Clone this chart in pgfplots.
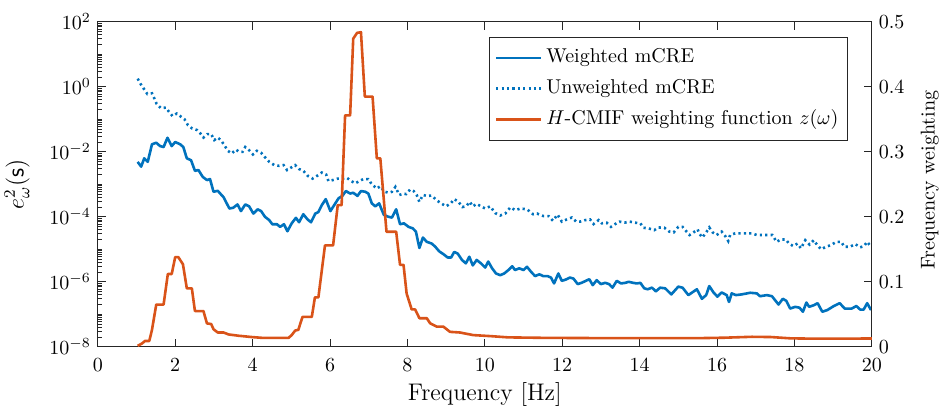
\documentclass[border=0pt]{standalone}
\usepackage{pgfplots}
\usepackage{pgfplotstable}
\pgfplotsset{compat=1.18}
\definecolor{mblue}{RGB}{0,114,189}
\definecolor{morange}{RGB}{217,83,25}
\definecolor{mgray}{RGB}{38,38,38}

\pgfplotstableread{
x y
1.03 4.9e-3
1.12 3.5e-3
1.20 6.3e-3
1.29 4.9e-3
1.40 1.7e-2
1.51 1.9e-2
1.61 1.5e-2
1.70 1.4e-2
1.80 2.7e-2
1.91 1.5e-2
2.00 2.0e-2
2.13 1.7e-2
2.21 1.4e-2
2.30 6.3e-3
2.41 5.5e-3
2.51 2.6e-3
2.60 2.75e-3
2.71 1.7e-3
2.82 1.35e-3
2.90 1.45e-3
2.99 5.9e-4
3.10 6.3e-4
3.25 4.0e-4
3.40 1.8e-4
3.50 1.9e-4
3.61 2.4e-4
3.70 1.5e-4
3.81 2.4e-4
3.91 2.1e-4
4.02 1.26e-4
4.13 1.7e-4
4.22 1.5e-4
4.32 1.0e-4
4.43 7.9e-5
4.51 5.9e-5
4.63 5.9e-5
4.71 4.9e-5
4.81 5.9e-5
4.90 3.6e-5
5.01 6.3e-5
5.12 9.3e-5
5.20 6.8e-5
5.31 1.2e-4
5.42 8.3e-5
5.51 6.8e-5
5.62 1.26e-4
5.70 1.4e-4
5.79 2.3e-4
5.89 3.5e-4
6.01 1.5e-4
6.11 2.3e-4
6.22 3.7e-4
6.32 4.4e-4
6.41 6.2e-4
6.52 5.2e-4
6.60 5.5e-4
6.71 4.4e-4
6.80 6.2e-4
6.91 5.9e-4
6.99 5.2e-4
7.08 2.6e-4
7.17 2.1e-4
7.27 2.6e-4
7.39 1.15e-4
7.51 1.0e-4
7.60 9.5e-5
7.71 1.7e-4
7.81 5.9e-5
7.91 6.3e-5
8.03 4.9e-5
8.14 4.4e-5
8.22 3.5e-5
8.31 1.1e-5
8.40 2.3e-5
8.50 1.7e-5
8.63 1.5e-5
8.72 1.2e-5
8.82 8.7e-6
8.93 7.1e-6
9.04 5.6e-6
9.13 5.6e-6
9.21 8.3e-6
9.30 7.4e-6
9.41 4.7e-6
9.51 3.7e-6
9.60 5.9e-6
9.69 3.2e-6
9.79 4.7e-6
9.90 3.7e-6
10.01 2.75e-6
10.09 4.2e-6
10.18 2.7e-6
10.29 1.8e-6
10.40 1.6e-6
10.50 1.8e-6
10.61 2.3e-6
10.71 3.0e-6
10.78 2.3e-6
10.89 2.6e-6
11.00 2.3e-6
11.09 2.9e-6
11.20 2.0e-6
11.30 1.5e-6
11.41 1.7e-6
11.51 1.5e-6
11.62 1.5e-6
11.71 1.35e-6
11.79 8.9e-7
11.90 1.8e-6
11.99 1.07e-6
12.09 1.17e-6
12.20 1.35e-6
12.29 1.26e-6
12.40 8.5e-7
12.50 9.3e-7
12.61 1.07e-6
12.70 1.2e-6
12.79 7.9e-7
12.89 1.12e-6
13.00 8.5e-7
13.11 9.3e-7
13.21 8.5e-7
13.30 6.6e-7
13.41 1.07e-6
13.52 8.9e-7
13.63 9.3e-7
13.72 1.0e-6
13.83 9.3e-7
13.93 8.9e-7
14.02 9.3e-7
14.12 6.3e-7
14.21 5.9e-7
14.32 6.6e-7
14.42 5.1e-7
14.53 6.6e-7
14.66 6.3e-7
14.82 4.1e-7
15.00 7.1e-7
15.11 6.6e-7
15.26 3.9e-7
15.48 5.9e-7
15.61 3.0e-7
15.72 3.9e-7
15.80 7.4e-7
15.91 4.7e-7
16.01 3.5e-7
16.12 4.7e-7
16.25 3.9e-7
16.31 2.4e-7
16.38 4.4e-7
16.49 3.9e-7
16.64 4.1e-7
16.86 4.6e-7
17.03 4.4e-7
17.11 3.6e-7
17.29 3.9e-7
17.42 3.6e-7
17.59 2.0e-7
17.70 3.0e-7
17.79 2.6e-7
17.89 1.5e-7
18.02 1.7e-7
18.13 1.6e-7
18.22 1.2e-7
18.31 2.3e-7
18.38 1.7e-7
18.50 1.9e-7
18.60 2.2e-7
18.72 1.2e-7
18.85 1.35e-7
19.02 1.8e-7
19.17 2.2e-7
19.30 1.5e-7
19.48 1.5e-7
19.60 1.8e-7
19.70 1.4e-7
19.79 1.4e-7
19.88 2.2e-7
19.98 1.35e-7
}\weighted

\pgfplotstableread{
x y
1.03 1.78
1.11 1.2
1.20 0.83
1.28 0.6
1.40 0.63
1.46 0.44
1.52 0.3
1.63 0.22
1.76 0.23
1.84 0.17
1.93 0.126
2.04 0.15
2.15 0.12
2.24 0.1
2.33 0.066
2.44 0.052
2.56 0.047
2.64 0.038
2.73 0.0275
2.83 0.035
2.93 0.035
3.01 0.023
3.10 0.0275
3.19 0.022
3.27 0.016
3.36 0.0107
3.46 8.9e-3
3.57 0.0117
3.65 0.01
3.74 0.01
3.81 0.014
3.91 0.0112
4.01 8.3e-3
4.11 0.0107
4.22 9.3e-3
4.32 6.8e-3
4.43 4.9e-3
4.56 3.9e-3
4.69 3.7e-3
4.80 3.9e-3
4.89 2.75e-3
5.00 3.3e-3
5.10 3.9e-3
5.20 2.95e-3
5.31 2.6e-3
5.43 1.8e-3
5.55 1.5e-3
5.66 1.8e-3
5.79 2.3e-3
5.90 2.0e-3
5.96 1.26e-3
6.07 1.35e-3
6.20 1.5e-3
6.32 1.5e-3
6.43 1.6e-3
6.55 1.26e-3
6.65 1.07e-3
6.73 1.2e-3
6.86 1.45e-3
6.99 1.45e-3
7.08 1.0e-3
7.21 7.4e-4
7.30 8.7e-4
7.41 5.9e-4
7.52 5.5e-4
7.60 5.9e-4
7.69 8.3e-4
7.79 4.7e-4
7.90 5.2e-4
7.97 5.0e-4
8.07 6.9e-4
8.16 6.2e-4
8.24 4.7e-4
8.31 2.9e-4
8.40 4.7e-4
8.50 4.4e-4
8.63 4.5e-4
8.76 3.2e-4
8.87 2.6e-4
9.00 2.1e-4
9.12 2.6e-4
9.21 3.5e-4
9.32 2.9e-4
9.42 2.0e-4
9.52 2.1e-4
9.61 2.9e-4
9.69 2.1e-4
9.79 2.5e-4
9.90 2.1e-4
10.01 1.8e-4
10.14 2.1e-4
10.27 1.3e-4
10.40 1.1e-4
10.53 1.26e-4
10.66 1.95e-4
10.79 1.6e-4
10.92 1.8e-4
11.09 1.7e-4
11.25 1.2e-4
11.35 1.26e-4
11.52 1.05e-4
11.65 1.05e-4
11.76 7.6e-5
11.88 1.17e-4
11.99 7.1e-5
12.12 8.3e-5
12.25 9.5e-5
12.36 7.1e-5
12.46 7.1e-5
12.59 7.9e-5
12.72 8.3e-5
12.81 6.0e-5
12.94 7.9e-5
13.02 6.3e-5
13.15 6.6e-5
13.26 4.9e-5
13.37 6.0e-5
13.48 7.1e-5
13.61 6.6e-5
13.74 7.1e-5
13.88 6.6e-5
14.02 6.3e-5
14.10 4.6e-5
14.23 4.4e-5
14.38 3.9e-5
14.49 4.7e-5
14.64 4.6e-5
14.77 3.5e-5
14.88 3.3e-5
15.00 4.9e-5
15.11 4.9e-5
15.18 3.9e-5
15.29 2.75e-5
15.39 3.3e-5
15.50 4.1e-5
15.54 3.1e-5
15.62 2.3e-5
15.72 3.3e-5
15.80 4.7e-5
15.89 3.3e-5
15.99 2.75e-5
16.12 3.5e-5
16.23 2.4e-5
16.29 1.8e-5
16.34 2.75e-5
16.47 3.1e-5
16.60 3.1e-5
16.75 3.1e-5
16.90 3.1e-5
17.03 2.75e-5
17.16 2.75e-5
17.29 2.75e-5
17.43 2.75e-5
17.54 1.7e-5
17.65 2.0e-5
17.78 2.0e-5
17.86 1.5e-5
17.97 1.26e-5
18.08 1.5e-5
18.17 1.07e-5
18.28 1.9e-5
18.39 1.4e-5
18.50 1.9e-5
18.58 1.4e-5
18.69 1.0e-5
18.82 1.2e-5
18.95 1.35e-5
19.08 1.7e-5
19.21 1.7e-5
19.29 1.2e-5
19.44 1.2e-5
19.57 1.45e-5
19.70 1.15e-5
19.80 1.26e-5
19.88 1.7e-5
19.98 1.2e-5
}\unweighted

\pgfplotstableread{
x y
1.03 0.0015
1.14 0.005
1.22 0.009
1.33 0.009
1.40 0.026
1.51 0.065
1.70 0.065
1.81 0.112
1.91 0.112
2.00 0.138
2.08 0.138
2.20 0.127
2.30 0.090
2.43 0.090
2.51 0.055
2.73 0.055
2.82 0.036
2.93 0.035
2.99 0.027
3.10 0.022
3.25 0.022
3.38 0.019
3.64 0.017
3.98 0.015
4.24 0.0138
4.93 0.0138
5.01 0.018
5.10 0.025
5.18 0.026
5.29 0.046
5.53 0.046
5.61 0.076
5.70 0.076
5.87 0.156
6.08 0.156
6.20 0.218
6.30 0.218
6.39 0.356
6.52 0.356
6.60 0.474
6.70 0.483
6.80 0.484
6.90 0.385
7.10 0.385
7.21 0.290
7.30 0.290
7.46 0.177
7.71 0.177
7.81 0.126
7.90 0.126
7.98 0.082
8.11 0.0575
8.20 0.0575
8.31 0.044
8.50 0.044
8.59 0.036
8.76 0.031
8.93 0.031
9.10 0.023
9.36 0.022
9.70 0.018
10.13 0.0165
10.60 0.0145
11.50 0.0138
12.50 0.0135
13.50 0.0133
14.50 0.0133
15.50 0.0133
16.20 0.0140
16.90 0.0154
17.40 0.0150
17.90 0.0130
18.50 0.0125
19.20 0.0125
20.00 0.0128
}\zfun

\begin{document}
\begin{tikzpicture}
\begin{axis}[
  scale only axis,
  width=387pt, height=162.5pt,
  xmin=0, xmax=20,
  ymode=log, ymin=1e-8, ymax=1e2,
  xtick={0,2,...,20},
  ytick={1e-8,1e-6,1e-4,1e-2,1,1e2},
  minor ytick={2e-8,3e-8,4e-8,5e-8,6e-8,7e-8,8e-8,9e-8,1e-7,2e-7,3e-7,4e-7,5e-7,6e-7,7e-7,8e-7,9e-7,
    2e-6,3e-6,4e-6,5e-6,6e-6,7e-6,8e-6,9e-6,1e-5,2e-5,3e-5,4e-5,5e-5,6e-5,7e-5,8e-5,9e-5,
    2e-4,3e-4,4e-4,5e-4,6e-4,7e-4,8e-4,9e-4,1e-3,2e-3,3e-3,4e-3,5e-3,6e-3,7e-3,8e-3,9e-3,
    2e-2,3e-2,4e-2,5e-2,6e-2,7e-2,8e-2,9e-2,1e-1,2e-1,3e-1,4e-1,5e-1,6e-1,7e-1,8e-1,9e-1,
    2,3,4,5,6,7,8,9,10,20,30,40,50,60,70,80,90},
  tick align=inside,
  ytick pos=left,
  xtick pos=both,
  major tick length=4pt,
  minor tick length=2pt,
  axis line style={mgray, line width=0.45pt},
  every tick/.style={mgray, line width=0.45pt},
  every minor tick/.style={mgray, line width=0.35pt},
  tick label style={font=\fontsize{10}{12}\selectfont, color=black},
  xticklabel style={yshift=-2.5pt},
  label style={font=\fontsize{12}{14}\selectfont},
  xlabel={Frequency [Hz]},
  xlabel shift=-1.5pt,
  ylabel={$e^2_\omega(\mathsf{s})$},
  ylabel shift=3pt,
  clip=true,
]
\addplot[mblue, line width=1.3pt, line join=round] table[x=x,y=y]{\weighted};
\addplot[mblue, line width=1.3pt, dash pattern=on 1.1pt off 1.6pt] table[x=x,y=y]{\unweighted};
\end{axis}
\begin{axis}[
  scale only axis,
  width=387pt, height=162.5pt,
  xmin=0, xmax=20,
  ymin=0, ymax=0.5,
  axis y line*=right,
  axis x line=none,
  ytick={0,0.1,0.2,0.3,0.4,0.5},
  yticklabel style={/pgf/number format/fixed, /pgf/number format/precision=1},
  tick align=inside,
  major tick length=4pt,
  axis line style={mgray, line width=0.45pt},
  every tick/.style={mgray, line width=0.45pt},
  tick label style={font=\fontsize{10}{12}\selectfont, color=black},
  label style={font=\fontsize{12}{14}\selectfont},
  ylabel={Frequency weighting},
  every axis y label/.style={at={([xshift=29pt,yshift=2pt]rel axis cs:1,0.5)}, rotate=90, anchor=center},
  legend cell align=left,
  legend style={at={(rel axis cs:1,1)}, anchor=north east, xshift=-12pt, yshift=-7.5pt,
    draw=mgray, line width=0.45pt, font=\fontsize{10}{12}\selectfont,
    inner xsep=2.5pt, inner ysep=3.3pt, row sep=1.4pt,
    nodes={inner sep=2pt, text height=7.5pt, text depth=2.5pt}},
  legend image code/.code={\draw[#1] (0pt,0pt) -- (22.5pt,0pt);},
]
\addlegendimage{mblue, line width=1.3pt}
\addlegendentry{Weighted mCRE}
\addlegendimage{mblue, line width=1.3pt, dash pattern=on 1.1pt off 1.6pt}
\addlegendentry{Unweighted mCRE}
\addplot[morange, line width=1.3pt, line join=round] table[x=x,y=y]{\zfun};
\addlegendentry{$H$-CMIF weighting function $z(\omega)$}
\end{axis}
\pgfresetboundingbox
\path[use as bounding box] ([xshift=-48.9pt,yshift=-30.1pt]current axis.south west) rectangle ([xshift=35.6pt,yshift=10.9pt]current axis.north east);
\end{tikzpicture}
\end{document}
